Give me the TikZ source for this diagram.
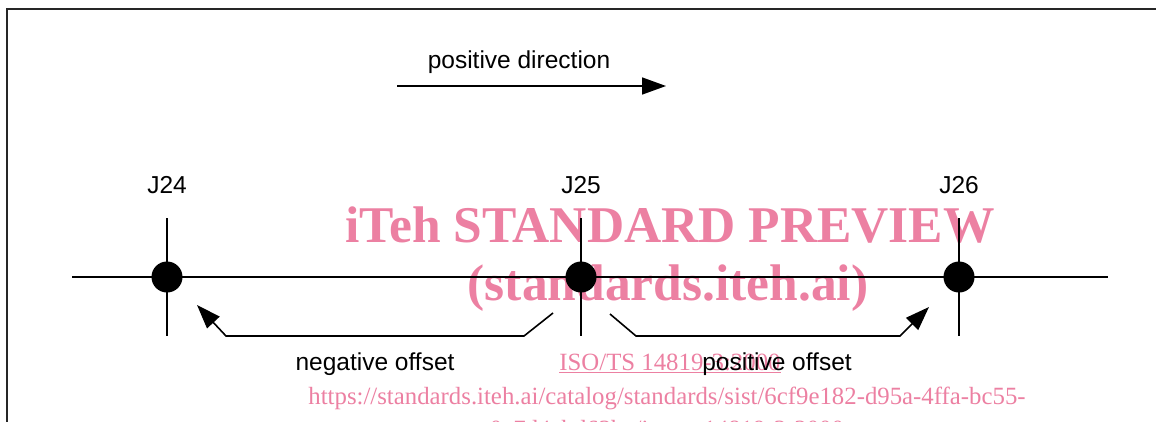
\documentclass[tikz,border=0pt]{standalone}
\usepackage{fontspec}
\setmainfont{Liberation Sans}
\newfontfamily\wmfont{Liberation Serif}
\usetikzlibrary{arrows.meta}
\definecolor{wmpink}{RGB}{236,128,162}
\begin{document}
\begin{tikzpicture}[x=1pt,y=-1pt,
  ln/.style={line width=1.6pt,black},
  dot/.style={circle,fill=black,inner sep=0pt,minimum size=31pt},
  lbl/.style={font=\fontsize{24.5}{29}\selectfont,inner sep=0pt,anchor=base},
  tip/.style={-{Triangle[length=24pt,width=17pt]}},
  wm/.style={text=wmpink,inner sep=0pt,anchor=base},
  wmbig/.style={wm,font=\wmfont\bfseries\fontsize{51.5}{52}\selectfont},
  wmsmall/.style={wm,font=\wmfont\fontsize{24.8}{26}\selectfont}
]
\useasboundingbox (0,0) rectangle (1156,421);
% frame
\coordinate (fBL) at (6.5,600);
\coordinate (fTL) at (6.5,8.5);
\coordinate (fTR) at (1200,8.5);
\draw[line width=2pt,black!85] (fBL) -- (fTL) -- (fTR);
% positive direction
\node[lbl] (pd) at (519,68) {positive direction};
\coordinate (pdA) at (397,86);
\coordinate (pdB) at (666,86);
\draw[ln,tip] (pdA) -- (pdB);
% axis
\coordinate (axL) at (72,277);
\coordinate (axR) at (1108,277);
\draw[ln] (axL) -- (axR);
% ticks, dots, labels
\foreach \n/\x in {24/167,25/581,26/959}{
  \coordinate (t\n a) at (\x,218);
  \coordinate (t\n b) at (\x,336);
  \draw[ln] (t\n a) -- (t\n b);
  \node[dot] (d\n) at (\x,277) {};
  \node[lbl] (l\n) at (\x,193) {J\n};
}
% negative offset
\coordinate (nA) at (553,313);
\coordinate (nB) at (524,336);
\coordinate (nC) at (226,336);
\coordinate (nD) at (197,305);
\draw[ln,tip] (nA) -- (nB) -- (nC) -- (nD);
\node[lbl] (no) at (375,370) {negative offset};
% positive offset
\coordinate (pA) at (610,314);
\coordinate (pB) at (636,336);
\coordinate (pC) at (900,336);
\coordinate (pD) at (929,307);
\draw[ln,tip] (pA) -- (pB) -- (pC) -- (pD);
\node[lbl] (po) at (777,370) {positive offset};
% watermark
\begin{scope}[blend mode=multiply]
\node[wmbig] (wm1) at (670,242) {iTeh STANDARD PREVIEW};
\node[wmbig] (wm2) at (668,300) {(standards.iteh.ai)};
\node[wmsmall] (wm3) at (670,370) {\underline{ISO/TS 14819-3:2000}};
\node[wmsmall] (wm4) at (667,404) {https://standards.iteh.ai/catalog/standards/sist/6cf9e182-d95a-4ffa-bc55-};
\node[wmsmall] (wm5) at (667,437) {0c7d4ebd63be/iso-ts-14819-3-2000};
\end{scope}
\end{tikzpicture}
\end{document}
